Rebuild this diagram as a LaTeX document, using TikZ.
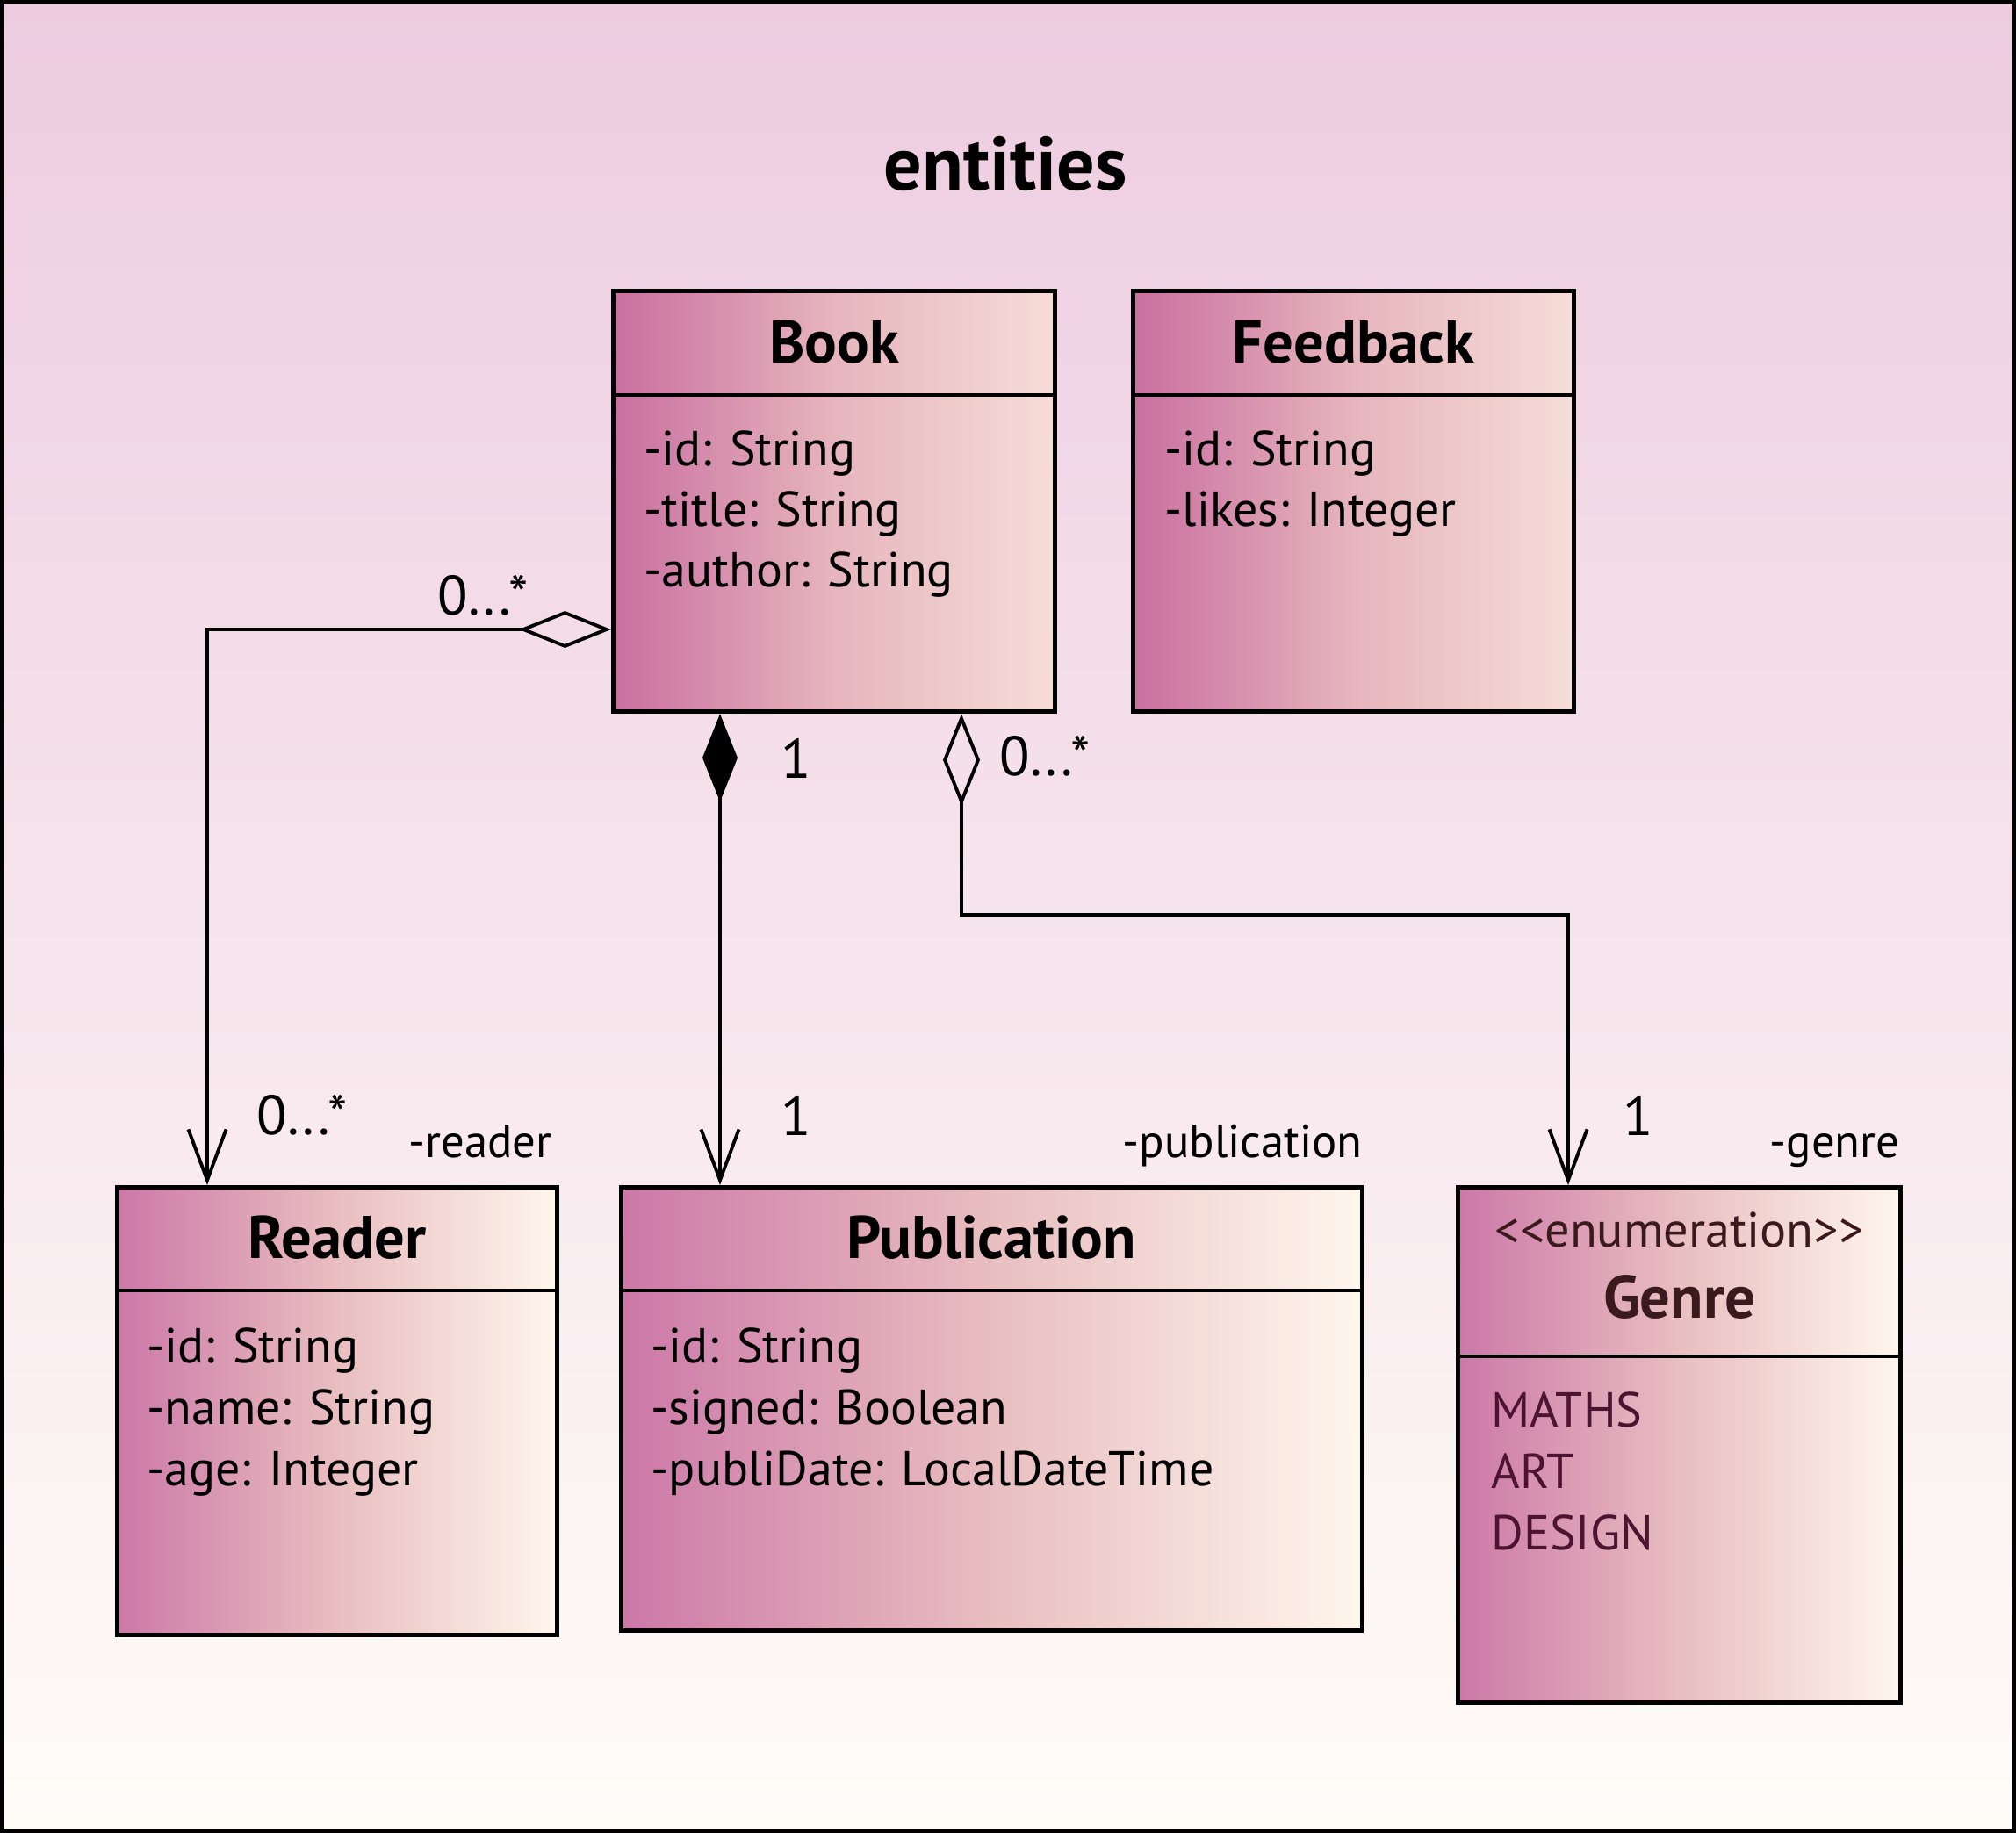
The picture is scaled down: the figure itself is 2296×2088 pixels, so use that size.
\documentclass[tikz,border=0pt]{standalone}
\usepackage{fontspec}
\setmainfont{PT Sans}
\usetikzlibrary{calc,arrows.meta}

\definecolor{bgtop}{HTML}{EDCCE0}
\definecolor{bgbottom}{HTML}{FFFCF8}
\definecolor{boxleft}{HTML}{C96FA0}
\definecolor{boxmid}{HTML}{E6B5BD}
\definecolor{boxright}{HTML}{F6DDD8}
\definecolor{lowleft}{HTML}{CC78A8}
\definecolor{lowmid}{HTML}{E9BEC0}
\definecolor{lowright}{HTML}{FEF6EC}
\definecolor{enumtext}{HTML}{3B1A1E}
\definecolor{itemtext}{HTML}{4D1432}

\newcommand\titlefont{\fontsize{24.5}{29}\selectfont\bfseries}
\newcommand\headfont{\fontsize{19.5}{23}\selectfont\bfseries}
\newcommand\attrfont{\fontsize{15.9}{19}\selectfont}
\newcommand\multfont{\fontsize{18}{22}\selectfont}
\newcommand\rolefont{\fontsize{15}{18}\selectfont}
\newcommand\stereofont{\fontsize{16}{19}\selectfont}

\tikzset{
  classbox/.style={draw=black, line width=1.4pt, inner sep=0pt, anchor=north west,
    left color=boxleft, right color=boxright, middle color=boxmid},
  lowbox/.style={classbox, left color=lowleft, right color=lowright, middle color=lowmid},
  sepline/.style={line width=1.4pt},
  headtext/.style={anchor=base, inner sep=0pt, font=\headfont},
  attr/.style={anchor=base west, inner sep=0pt, font=\attrfont},
  mult/.style={anchor=base west, inner sep=0pt, font=\multfont},
  role/.style={anchor=base east, inner sep=0pt, font=\rolefont},
  assoc/.style={line width=1.1pt, -{Straight Barb[length=0.58cm, width=0.43cm]}},
  aggr/.style={assoc, {Diamond[open, length=1.05cm, width=0.42cm]}-{Straight Barb[length=0.58cm, width=0.43cm]}},
  comp/.style={assoc, {Diamond[length=1.0cm, width=0.40cm]}-{Straight Barb[length=0.58cm, width=0.43cm]}}
}

\begin{document}
\begin{tikzpicture}[x=0.01cm, y=-0.01cm]
		%%%%% FRAME %%%%%
		\useasboundingbox (0,0) rectangle (2296,2088);
		\draw[line width=1.4pt, top color=bgtop, bottom color=bgbottom] (2,2) rectangle (2294,2086);
		\node[anchor=base, inner sep=0pt, font=\titlefont] (title) at (1145,217) {entities};
		
		%%%%% CLASSES %%%%%
		\node[classbox, minimum width=5.03cm, minimum height=4.79cm] (book) at (696,329) {};
		\node[classbox, minimum width=5.02cm, minimum height=4.79cm] (feedback) at (1288,329) {};
		\node[lowbox, minimum width=5.01cm, minimum height=5.10cm] (reader) at (131,1350) {};
		\node[lowbox, minimum width=8.43cm, minimum height=5.05cm] (publication) at (705,1350) {};
		\node[lowbox, minimum width=5.04cm, minimum height=5.87cm] (genre) at (1658,1350) {};
		
		\draw[sepline] ($(book.north west)+(0,121)$) -- ($(book.north east)+(0,121)$);
		\draw[sepline] ($(feedback.north west)+(0,121)$) -- ($(feedback.north east)+(0,121)$);
		\draw[sepline] ($(reader.north west)+(0,120)$) -- ($(reader.north east)+(0,120)$);
		\draw[sepline] ($(publication.north west)+(0,120)$) -- ($(publication.north east)+(0,120)$);
		\draw[sepline] ($(genre.north west)+(0,195)$) -- ($(genre.north east)+(0,195)$);
		
		\node[headtext] (book-head) at ($(book.north)+(0,84)$) {Book};
		\node[headtext] (feedback-head) at ($(feedback.north)+(0,84)$) {Feedback};
		\node[headtext] (reader-head) at ($(reader.north)+(0,83)$) {Reader};
		\node[headtext] (publication-head) at ($(publication.north)+(0,83)$) {Publication};
		\node[headtext, font=\stereofont, text=enumtext] (genre-stereo) at ($(genre.north)+(0,70)$) {{<}{<}enumeration{>}{>}};
		\node[headtext, text=enumtext] (genre-head) at ($(genre.north)+(0,151)$) {Genre};
		
		% attributes
		\foreach \t [count=\i] in {-id: String, -title: String, -author: String}
			\node[attr] (book-a\i) at ($(book.north west)+(37,132+69*\i)$) {\t};
		\foreach \t [count=\i] in {-id: String, -likes: Integer}
			\node[attr] (feedback-a\i) at ($(feedback.north west)+(38,132+69*\i)$) {\t};
		\foreach \t [count=\i] in {-id: String, -name: String, -age: Integer}
			\node[attr] (reader-a\i) at ($(reader.north west)+(36,132+70*\i)$) {\t};
		\foreach \t [count=\i] in {-id: String, -signed: Boolean, -publiDate: LocalDateTime}
			\node[attr] (publication-a\i) at ($(publication.north west)+(36,132+70*\i)$) {\t};
		\foreach \t [count=\i] in {MATHS, ART, DESIGN}
			\node[attr, text=itemtext] (genre-a\i) at ($(genre.north west)+(40,205+70*\i)$) {\t};
		
		%%%%% RELATIONS %%%%%
		\draw[aggr] ($(book.north west)+(0,388)$) -| ($(reader.north west)+(105,0)$);
		\draw[comp] ($(book.south west)+(124,0)$) -- ($(publication.north west)+(115,0)$);
		\draw[aggr] ($(book.south west)+(399,0)$) -- ++(0,229) -| ($(genre.north west)+(128,0)$);
		
		\node[mult] (book-reader-m) at (498,700) {0...*};
		\node[mult] (reader-m) at (292,1292) {0...*};
		\node[mult] (book-pub-m) at (889,886) {1};
		\node[mult] (pub-m) at (889,1293) {1};
		\node[mult] (book-genre-m) at (1138,883) {0...*};
		\node[mult] (genre-m) at (1848,1293) {1};
		
		\node[role] (reader-role) at ($(reader.north east)+(-8,-32)$) {-reader};
		\node[role] (publication-role) at ($(publication.north east)+(-1,-32)$) {-publication};
		\node[role] (genre-role) at ($(genre.north east)+(-3,-32)$) {-genre};
		%%%%% END %%%%%
\end{tikzpicture}
\end{document}
